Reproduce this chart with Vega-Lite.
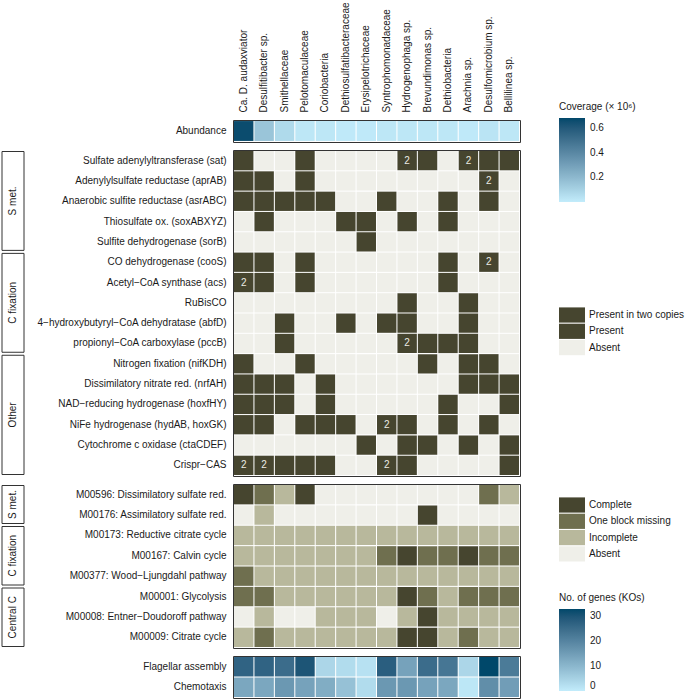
{
"$schema": "https://vega.github.io/schema/vega-lite/v6.json",
"padding": {"left": 1, "top": 1, "right": 0, "bottom": 0},
"config": {
  "font": "Liberation Sans",
  "view": {"stroke": "#333", "strokeWidth": 1},
  "axis": {"domain": false, "ticks": false, "grid": false, "labelFontSize": 10, "labelColor": "#1a1a1a", "labelPadding": 7, "labelLimit": 300},
  "legend": {"labelFontSize": 10, "labelColor": "#1a1a1a", "titleFontSize": 10, "titleFontWeight": "normal", "titleColor": "#1a1a1a"}
},
"datasets": {
  "abund": [
    {"row":"Abundance","sp":"Ca. D. audaxviator","cov":0.66},
    {"row":"Abundance","sp":"Desulfitibacter sp.","cov":0.15},
    {"row":"Abundance","sp":"Smithellaceae","cov":0.07},
    {"row":"Abundance","sp":"Pelotomaculaceae","cov":0.02},
    {"row":"Abundance","sp":"Coriobacteria","cov":0.02},
    {"row":"Abundance","sp":"Dethiosulfatibacteraceae","cov":0.01},
    {"row":"Abundance","sp":"Erysipelotrichaceae","cov":0.01},
    {"row":"Abundance","sp":"Syntrophomonadaceae","cov":0.02},
    {"row":"Abundance","sp":"Hydrogenophaga sp.","cov":0.02},
    {"row":"Abundance","sp":"Brevundimonas sp.","cov":0.02},
    {"row":"Abundance","sp":"Dethiobacteria","cov":0.02},
    {"row":"Abundance","sp":"Arachnia sp.","cov":0.01},
    {"row":"Abundance","sp":"Desulfomicrobium sp.","cov":0.03},
    {"row":"Abundance","sp":"Bellilinea sp.","cov":0.02}
  ],
  "geneGroups": [
    {"row":"Sulfate adenylyltransferase (sat)","group":"S met.","rank":1},
    {"row":"Adenylylsulfate reductase (aprAB)","group":"S met.","rank":1},
    {"row":"Anaerobic sulfite reductase (asrABC)","group":"S met.","rank":1},
    {"row":"Thiosulfate ox. (soxABXYZ)","group":"S met.","rank":1},
    {"row":"Sulfite dehydrogenase (sorB)","group":"S met.","rank":1},
    {"row":"CO dehydrogenase (cooS)","group":"C fixation","rank":2},
    {"row":"Acetyl−CoA synthase (acs)","group":"C fixation","rank":2},
    {"row":"RuBisCO","group":"C fixation","rank":2},
    {"row":"4−hydroxybutyryl−CoA dehydratase (abfD)","group":"C fixation","rank":2},
    {"row":"propionyl−CoA carboxylase (pccB)","group":"C fixation","rank":2},
    {"row":"Nitrogen fixation (nifKDH)","group":"Other","rank":3},
    {"row":"Dissimilatory nitrate red. (nrfAH)","group":"Other","rank":3},
    {"row":"NAD−reducing hydrogenase (hoxfHY)","group":"Other","rank":3},
    {"row":"NiFe hydrogenase (hydAB, hoxGK)","group":"Other","rank":3},
    {"row":"Cytochrome c oxidase (ctaCDEF)","group":"Other","rank":3},
    {"row":"Crispr−CAS","group":"Other","rank":3}
  ],
  "modGroups": [
    {"row":"M00596: Dissimilatory sulfate red.","group":"S met.","rank":1},
    {"row":"M00176: Assimilatory sulfate red.","group":"S met.","rank":1},
    {"row":"M00173: Reductive citrate cycle","group":"C fixation","rank":2},
    {"row":"M00167: Calvin cycle","group":"C fixation","rank":2},
    {"row":"M00377: Wood−Ljungdahl pathway","group":"C fixation","rank":2},
    {"row":"M00001: Glycolysis","group":"Central C","rank":3},
    {"row":"M00008: Entner−Doudoroff pathway","group":"Central C","rank":3},
    {"row":"M00009: Citrate cycle","group":"Central C","rank":3}
  ],
  "genes": [
    {"row":"Sulfate adenylyltransferase (sat)","sp":"Ca. D. audaxviator","st":"Present"},
    {"row":"Sulfate adenylyltransferase (sat)","sp":"Desulfitibacter sp.","st":"Absent"},
    {"row":"Sulfate adenylyltransferase (sat)","sp":"Smithellaceae","st":"Absent"},
    {"row":"Sulfate adenylyltransferase (sat)","sp":"Pelotomaculaceae","st":"Present"},
    {"row":"Sulfate adenylyltransferase (sat)","sp":"Coriobacteria","st":"Absent"},
    {"row":"Sulfate adenylyltransferase (sat)","sp":"Dethiosulfatibacteraceae","st":"Absent"},
    {"row":"Sulfate adenylyltransferase (sat)","sp":"Erysipelotrichaceae","st":"Absent"},
    {"row":"Sulfate adenylyltransferase (sat)","sp":"Syntrophomonadaceae","st":"Absent"},
    {"row":"Sulfate adenylyltransferase (sat)","sp":"Hydrogenophaga sp.","st":"Present in two copies"},
    {"row":"Sulfate adenylyltransferase (sat)","sp":"Brevundimonas sp.","st":"Present"},
    {"row":"Sulfate adenylyltransferase (sat)","sp":"Dethiobacteria","st":"Absent"},
    {"row":"Sulfate adenylyltransferase (sat)","sp":"Arachnia sp.","st":"Present in two copies"},
    {"row":"Sulfate adenylyltransferase (sat)","sp":"Desulfomicrobium sp.","st":"Present"},
    {"row":"Sulfate adenylyltransferase (sat)","sp":"Bellilinea sp.","st":"Present"},

    {"row":"Adenylylsulfate reductase (aprAB)","sp":"Ca. D. audaxviator","st":"Present"},
    {"row":"Adenylylsulfate reductase (aprAB)","sp":"Desulfitibacter sp.","st":"Present"},
    {"row":"Adenylylsulfate reductase (aprAB)","sp":"Smithellaceae","st":"Absent"},
    {"row":"Adenylylsulfate reductase (aprAB)","sp":"Pelotomaculaceae","st":"Present"},
    {"row":"Adenylylsulfate reductase (aprAB)","sp":"Coriobacteria","st":"Absent"},
    {"row":"Adenylylsulfate reductase (aprAB)","sp":"Dethiosulfatibacteraceae","st":"Absent"},
    {"row":"Adenylylsulfate reductase (aprAB)","sp":"Erysipelotrichaceae","st":"Absent"},
    {"row":"Adenylylsulfate reductase (aprAB)","sp":"Syntrophomonadaceae","st":"Absent"},
    {"row":"Adenylylsulfate reductase (aprAB)","sp":"Hydrogenophaga sp.","st":"Absent"},
    {"row":"Adenylylsulfate reductase (aprAB)","sp":"Brevundimonas sp.","st":"Absent"},
    {"row":"Adenylylsulfate reductase (aprAB)","sp":"Dethiobacteria","st":"Absent"},
    {"row":"Adenylylsulfate reductase (aprAB)","sp":"Arachnia sp.","st":"Absent"},
    {"row":"Adenylylsulfate reductase (aprAB)","sp":"Desulfomicrobium sp.","st":"Present in two copies"},
    {"row":"Adenylylsulfate reductase (aprAB)","sp":"Bellilinea sp.","st":"Absent"},

    {"row":"Anaerobic sulfite reductase (asrABC)","sp":"Ca. D. audaxviator","st":"Present"},
    {"row":"Anaerobic sulfite reductase (asrABC)","sp":"Desulfitibacter sp.","st":"Present"},
    {"row":"Anaerobic sulfite reductase (asrABC)","sp":"Smithellaceae","st":"Present"},
    {"row":"Anaerobic sulfite reductase (asrABC)","sp":"Pelotomaculaceae","st":"Present"},
    {"row":"Anaerobic sulfite reductase (asrABC)","sp":"Coriobacteria","st":"Present"},
    {"row":"Anaerobic sulfite reductase (asrABC)","sp":"Dethiosulfatibacteraceae","st":"Absent"},
    {"row":"Anaerobic sulfite reductase (asrABC)","sp":"Erysipelotrichaceae","st":"Absent"},
    {"row":"Anaerobic sulfite reductase (asrABC)","sp":"Syntrophomonadaceae","st":"Present"},
    {"row":"Anaerobic sulfite reductase (asrABC)","sp":"Hydrogenophaga sp.","st":"Absent"},
    {"row":"Anaerobic sulfite reductase (asrABC)","sp":"Brevundimonas sp.","st":"Absent"},
    {"row":"Anaerobic sulfite reductase (asrABC)","sp":"Dethiobacteria","st":"Present"},
    {"row":"Anaerobic sulfite reductase (asrABC)","sp":"Arachnia sp.","st":"Absent"},
    {"row":"Anaerobic sulfite reductase (asrABC)","sp":"Desulfomicrobium sp.","st":"Present"},
    {"row":"Anaerobic sulfite reductase (asrABC)","sp":"Bellilinea sp.","st":"Absent"},

    {"row":"Thiosulfate ox. (soxABXYZ)","sp":"Ca. D. audaxviator","st":"Absent"},
    {"row":"Thiosulfate ox. (soxABXYZ)","sp":"Desulfitibacter sp.","st":"Present"},
    {"row":"Thiosulfate ox. (soxABXYZ)","sp":"Smithellaceae","st":"Absent"},
    {"row":"Thiosulfate ox. (soxABXYZ)","sp":"Pelotomaculaceae","st":"Absent"},
    {"row":"Thiosulfate ox. (soxABXYZ)","sp":"Coriobacteria","st":"Absent"},
    {"row":"Thiosulfate ox. (soxABXYZ)","sp":"Dethiosulfatibacteraceae","st":"Present"},
    {"row":"Thiosulfate ox. (soxABXYZ)","sp":"Erysipelotrichaceae","st":"Present"},
    {"row":"Thiosulfate ox. (soxABXYZ)","sp":"Syntrophomonadaceae","st":"Absent"},
    {"row":"Thiosulfate ox. (soxABXYZ)","sp":"Hydrogenophaga sp.","st":"Present"},
    {"row":"Thiosulfate ox. (soxABXYZ)","sp":"Brevundimonas sp.","st":"Absent"},
    {"row":"Thiosulfate ox. (soxABXYZ)","sp":"Dethiobacteria","st":"Present"},
    {"row":"Thiosulfate ox. (soxABXYZ)","sp":"Arachnia sp.","st":"Absent"},
    {"row":"Thiosulfate ox. (soxABXYZ)","sp":"Desulfomicrobium sp.","st":"Absent"},
    {"row":"Thiosulfate ox. (soxABXYZ)","sp":"Bellilinea sp.","st":"Absent"},

    {"row":"Sulfite dehydrogenase (sorB)","sp":"Ca. D. audaxviator","st":"Absent"},
    {"row":"Sulfite dehydrogenase (sorB)","sp":"Desulfitibacter sp.","st":"Absent"},
    {"row":"Sulfite dehydrogenase (sorB)","sp":"Smithellaceae","st":"Absent"},
    {"row":"Sulfite dehydrogenase (sorB)","sp":"Pelotomaculaceae","st":"Absent"},
    {"row":"Sulfite dehydrogenase (sorB)","sp":"Coriobacteria","st":"Absent"},
    {"row":"Sulfite dehydrogenase (sorB)","sp":"Dethiosulfatibacteraceae","st":"Absent"},
    {"row":"Sulfite dehydrogenase (sorB)","sp":"Erysipelotrichaceae","st":"Present"},
    {"row":"Sulfite dehydrogenase (sorB)","sp":"Syntrophomonadaceae","st":"Absent"},
    {"row":"Sulfite dehydrogenase (sorB)","sp":"Hydrogenophaga sp.","st":"Absent"},
    {"row":"Sulfite dehydrogenase (sorB)","sp":"Brevundimonas sp.","st":"Absent"},
    {"row":"Sulfite dehydrogenase (sorB)","sp":"Dethiobacteria","st":"Absent"},
    {"row":"Sulfite dehydrogenase (sorB)","sp":"Arachnia sp.","st":"Absent"},
    {"row":"Sulfite dehydrogenase (sorB)","sp":"Desulfomicrobium sp.","st":"Absent"},
    {"row":"Sulfite dehydrogenase (sorB)","sp":"Bellilinea sp.","st":"Absent"},

    {"row":"CO dehydrogenase (cooS)","sp":"Ca. D. audaxviator","st":"Present"},
    {"row":"CO dehydrogenase (cooS)","sp":"Desulfitibacter sp.","st":"Present"},
    {"row":"CO dehydrogenase (cooS)","sp":"Smithellaceae","st":"Absent"},
    {"row":"CO dehydrogenase (cooS)","sp":"Pelotomaculaceae","st":"Present"},
    {"row":"CO dehydrogenase (cooS)","sp":"Coriobacteria","st":"Absent"},
    {"row":"CO dehydrogenase (cooS)","sp":"Dethiosulfatibacteraceae","st":"Absent"},
    {"row":"CO dehydrogenase (cooS)","sp":"Erysipelotrichaceae","st":"Absent"},
    {"row":"CO dehydrogenase (cooS)","sp":"Syntrophomonadaceae","st":"Absent"},
    {"row":"CO dehydrogenase (cooS)","sp":"Hydrogenophaga sp.","st":"Absent"},
    {"row":"CO dehydrogenase (cooS)","sp":"Brevundimonas sp.","st":"Absent"},
    {"row":"CO dehydrogenase (cooS)","sp":"Dethiobacteria","st":"Present"},
    {"row":"CO dehydrogenase (cooS)","sp":"Arachnia sp.","st":"Absent"},
    {"row":"CO dehydrogenase (cooS)","sp":"Desulfomicrobium sp.","st":"Present in two copies"},
    {"row":"CO dehydrogenase (cooS)","sp":"Bellilinea sp.","st":"Absent"},

    {"row":"Acetyl−CoA synthase (acs)","sp":"Ca. D. audaxviator","st":"Present in two copies"},
    {"row":"Acetyl−CoA synthase (acs)","sp":"Desulfitibacter sp.","st":"Present"},
    {"row":"Acetyl−CoA synthase (acs)","sp":"Smithellaceae","st":"Absent"},
    {"row":"Acetyl−CoA synthase (acs)","sp":"Pelotomaculaceae","st":"Present"},
    {"row":"Acetyl−CoA synthase (acs)","sp":"Coriobacteria","st":"Absent"},
    {"row":"Acetyl−CoA synthase (acs)","sp":"Dethiosulfatibacteraceae","st":"Absent"},
    {"row":"Acetyl−CoA synthase (acs)","sp":"Erysipelotrichaceae","st":"Absent"},
    {"row":"Acetyl−CoA synthase (acs)","sp":"Syntrophomonadaceae","st":"Absent"},
    {"row":"Acetyl−CoA synthase (acs)","sp":"Hydrogenophaga sp.","st":"Absent"},
    {"row":"Acetyl−CoA synthase (acs)","sp":"Brevundimonas sp.","st":"Absent"},
    {"row":"Acetyl−CoA synthase (acs)","sp":"Dethiobacteria","st":"Present"},
    {"row":"Acetyl−CoA synthase (acs)","sp":"Arachnia sp.","st":"Absent"},
    {"row":"Acetyl−CoA synthase (acs)","sp":"Desulfomicrobium sp.","st":"Absent"},
    {"row":"Acetyl−CoA synthase (acs)","sp":"Bellilinea sp.","st":"Absent"},

    {"row":"RuBisCO","sp":"Ca. D. audaxviator","st":"Absent"},
    {"row":"RuBisCO","sp":"Desulfitibacter sp.","st":"Absent"},
    {"row":"RuBisCO","sp":"Smithellaceae","st":"Absent"},
    {"row":"RuBisCO","sp":"Pelotomaculaceae","st":"Absent"},
    {"row":"RuBisCO","sp":"Coriobacteria","st":"Absent"},
    {"row":"RuBisCO","sp":"Dethiosulfatibacteraceae","st":"Absent"},
    {"row":"RuBisCO","sp":"Erysipelotrichaceae","st":"Absent"},
    {"row":"RuBisCO","sp":"Syntrophomonadaceae","st":"Absent"},
    {"row":"RuBisCO","sp":"Hydrogenophaga sp.","st":"Present"},
    {"row":"RuBisCO","sp":"Brevundimonas sp.","st":"Absent"},
    {"row":"RuBisCO","sp":"Dethiobacteria","st":"Absent"},
    {"row":"RuBisCO","sp":"Arachnia sp.","st":"Present"},
    {"row":"RuBisCO","sp":"Desulfomicrobium sp.","st":"Absent"},
    {"row":"RuBisCO","sp":"Bellilinea sp.","st":"Absent"},

    {"row":"4−hydroxybutyryl−CoA dehydratase (abfD)","sp":"Ca. D. audaxviator","st":"Absent"},
    {"row":"4−hydroxybutyryl−CoA dehydratase (abfD)","sp":"Desulfitibacter sp.","st":"Absent"},
    {"row":"4−hydroxybutyryl−CoA dehydratase (abfD)","sp":"Smithellaceae","st":"Present"},
    {"row":"4−hydroxybutyryl−CoA dehydratase (abfD)","sp":"Pelotomaculaceae","st":"Absent"},
    {"row":"4−hydroxybutyryl−CoA dehydratase (abfD)","sp":"Coriobacteria","st":"Absent"},
    {"row":"4−hydroxybutyryl−CoA dehydratase (abfD)","sp":"Dethiosulfatibacteraceae","st":"Present"},
    {"row":"4−hydroxybutyryl−CoA dehydratase (abfD)","sp":"Erysipelotrichaceae","st":"Absent"},
    {"row":"4−hydroxybutyryl−CoA dehydratase (abfD)","sp":"Syntrophomonadaceae","st":"Present"},
    {"row":"4−hydroxybutyryl−CoA dehydratase (abfD)","sp":"Hydrogenophaga sp.","st":"Present"},
    {"row":"4−hydroxybutyryl−CoA dehydratase (abfD)","sp":"Brevundimonas sp.","st":"Absent"},
    {"row":"4−hydroxybutyryl−CoA dehydratase (abfD)","sp":"Dethiobacteria","st":"Absent"},
    {"row":"4−hydroxybutyryl−CoA dehydratase (abfD)","sp":"Arachnia sp.","st":"Present"},
    {"row":"4−hydroxybutyryl−CoA dehydratase (abfD)","sp":"Desulfomicrobium sp.","st":"Absent"},
    {"row":"4−hydroxybutyryl−CoA dehydratase (abfD)","sp":"Bellilinea sp.","st":"Absent"},

    {"row":"propionyl−CoA carboxylase (pccB)","sp":"Ca. D. audaxviator","st":"Absent"},
    {"row":"propionyl−CoA carboxylase (pccB)","sp":"Desulfitibacter sp.","st":"Absent"},
    {"row":"propionyl−CoA carboxylase (pccB)","sp":"Smithellaceae","st":"Present"},
    {"row":"propionyl−CoA carboxylase (pccB)","sp":"Pelotomaculaceae","st":"Absent"},
    {"row":"propionyl−CoA carboxylase (pccB)","sp":"Coriobacteria","st":"Absent"},
    {"row":"propionyl−CoA carboxylase (pccB)","sp":"Dethiosulfatibacteraceae","st":"Absent"},
    {"row":"propionyl−CoA carboxylase (pccB)","sp":"Erysipelotrichaceae","st":"Absent"},
    {"row":"propionyl−CoA carboxylase (pccB)","sp":"Syntrophomonadaceae","st":"Absent"},
    {"row":"propionyl−CoA carboxylase (pccB)","sp":"Hydrogenophaga sp.","st":"Present in two copies"},
    {"row":"propionyl−CoA carboxylase (pccB)","sp":"Brevundimonas sp.","st":"Present"},
    {"row":"propionyl−CoA carboxylase (pccB)","sp":"Dethiobacteria","st":"Present"},
    {"row":"propionyl−CoA carboxylase (pccB)","sp":"Arachnia sp.","st":"Present"},
    {"row":"propionyl−CoA carboxylase (pccB)","sp":"Desulfomicrobium sp.","st":"Absent"},
    {"row":"propionyl−CoA carboxylase (pccB)","sp":"Bellilinea sp.","st":"Absent"},

    {"row":"Nitrogen fixation (nifKDH)","sp":"Ca. D. audaxviator","st":"Present"},
    {"row":"Nitrogen fixation (nifKDH)","sp":"Desulfitibacter sp.","st":"Absent"},
    {"row":"Nitrogen fixation (nifKDH)","sp":"Smithellaceae","st":"Absent"},
    {"row":"Nitrogen fixation (nifKDH)","sp":"Pelotomaculaceae","st":"Present"},
    {"row":"Nitrogen fixation (nifKDH)","sp":"Coriobacteria","st":"Absent"},
    {"row":"Nitrogen fixation (nifKDH)","sp":"Dethiosulfatibacteraceae","st":"Absent"},
    {"row":"Nitrogen fixation (nifKDH)","sp":"Erysipelotrichaceae","st":"Absent"},
    {"row":"Nitrogen fixation (nifKDH)","sp":"Syntrophomonadaceae","st":"Absent"},
    {"row":"Nitrogen fixation (nifKDH)","sp":"Hydrogenophaga sp.","st":"Absent"},
    {"row":"Nitrogen fixation (nifKDH)","sp":"Brevundimonas sp.","st":"Present"},
    {"row":"Nitrogen fixation (nifKDH)","sp":"Dethiobacteria","st":"Absent"},
    {"row":"Nitrogen fixation (nifKDH)","sp":"Arachnia sp.","st":"Present"},
    {"row":"Nitrogen fixation (nifKDH)","sp":"Desulfomicrobium sp.","st":"Present"},
    {"row":"Nitrogen fixation (nifKDH)","sp":"Bellilinea sp.","st":"Absent"},

    {"row":"Dissimilatory nitrate red. (nrfAH)","sp":"Ca. D. audaxviator","st":"Present"},
    {"row":"Dissimilatory nitrate red. (nrfAH)","sp":"Desulfitibacter sp.","st":"Present"},
    {"row":"Dissimilatory nitrate red. (nrfAH)","sp":"Smithellaceae","st":"Present"},
    {"row":"Dissimilatory nitrate red. (nrfAH)","sp":"Pelotomaculaceae","st":"Absent"},
    {"row":"Dissimilatory nitrate red. (nrfAH)","sp":"Coriobacteria","st":"Present"},
    {"row":"Dissimilatory nitrate red. (nrfAH)","sp":"Dethiosulfatibacteraceae","st":"Absent"},
    {"row":"Dissimilatory nitrate red. (nrfAH)","sp":"Erysipelotrichaceae","st":"Absent"},
    {"row":"Dissimilatory nitrate red. (nrfAH)","sp":"Syntrophomonadaceae","st":"Absent"},
    {"row":"Dissimilatory nitrate red. (nrfAH)","sp":"Hydrogenophaga sp.","st":"Absent"},
    {"row":"Dissimilatory nitrate red. (nrfAH)","sp":"Brevundimonas sp.","st":"Absent"},
    {"row":"Dissimilatory nitrate red. (nrfAH)","sp":"Dethiobacteria","st":"Absent"},
    {"row":"Dissimilatory nitrate red. (nrfAH)","sp":"Arachnia sp.","st":"Present"},
    {"row":"Dissimilatory nitrate red. (nrfAH)","sp":"Desulfomicrobium sp.","st":"Present"},
    {"row":"Dissimilatory nitrate red. (nrfAH)","sp":"Bellilinea sp.","st":"Present"},

    {"row":"NAD−reducing hydrogenase (hoxfHY)","sp":"Ca. D. audaxviator","st":"Present"},
    {"row":"NAD−reducing hydrogenase (hoxfHY)","sp":"Desulfitibacter sp.","st":"Present"},
    {"row":"NAD−reducing hydrogenase (hoxfHY)","sp":"Smithellaceae","st":"Present"},
    {"row":"NAD−reducing hydrogenase (hoxfHY)","sp":"Pelotomaculaceae","st":"Absent"},
    {"row":"NAD−reducing hydrogenase (hoxfHY)","sp":"Coriobacteria","st":"Present"},
    {"row":"NAD−reducing hydrogenase (hoxfHY)","sp":"Dethiosulfatibacteraceae","st":"Absent"},
    {"row":"NAD−reducing hydrogenase (hoxfHY)","sp":"Erysipelotrichaceae","st":"Absent"},
    {"row":"NAD−reducing hydrogenase (hoxfHY)","sp":"Syntrophomonadaceae","st":"Absent"},
    {"row":"NAD−reducing hydrogenase (hoxfHY)","sp":"Hydrogenophaga sp.","st":"Absent"},
    {"row":"NAD−reducing hydrogenase (hoxfHY)","sp":"Brevundimonas sp.","st":"Absent"},
    {"row":"NAD−reducing hydrogenase (hoxfHY)","sp":"Dethiobacteria","st":"Present"},
    {"row":"NAD−reducing hydrogenase (hoxfHY)","sp":"Arachnia sp.","st":"Absent"},
    {"row":"NAD−reducing hydrogenase (hoxfHY)","sp":"Desulfomicrobium sp.","st":"Absent"},
    {"row":"NAD−reducing hydrogenase (hoxfHY)","sp":"Bellilinea sp.","st":"Present"},

    {"row":"NiFe hydrogenase (hydAB, hoxGK)","sp":"Ca. D. audaxviator","st":"Present"},
    {"row":"NiFe hydrogenase (hydAB, hoxGK)","sp":"Desulfitibacter sp.","st":"Present"},
    {"row":"NiFe hydrogenase (hydAB, hoxGK)","sp":"Smithellaceae","st":"Absent"},
    {"row":"NiFe hydrogenase (hydAB, hoxGK)","sp":"Pelotomaculaceae","st":"Present"},
    {"row":"NiFe hydrogenase (hydAB, hoxGK)","sp":"Coriobacteria","st":"Present"},
    {"row":"NiFe hydrogenase (hydAB, hoxGK)","sp":"Dethiosulfatibacteraceae","st":"Present"},
    {"row":"NiFe hydrogenase (hydAB, hoxGK)","sp":"Erysipelotrichaceae","st":"Absent"},
    {"row":"NiFe hydrogenase (hydAB, hoxGK)","sp":"Syntrophomonadaceae","st":"Present in two copies"},
    {"row":"NiFe hydrogenase (hydAB, hoxGK)","sp":"Hydrogenophaga sp.","st":"Present"},
    {"row":"NiFe hydrogenase (hydAB, hoxGK)","sp":"Brevundimonas sp.","st":"Absent"},
    {"row":"NiFe hydrogenase (hydAB, hoxGK)","sp":"Dethiobacteria","st":"Present"},
    {"row":"NiFe hydrogenase (hydAB, hoxGK)","sp":"Arachnia sp.","st":"Absent"},
    {"row":"NiFe hydrogenase (hydAB, hoxGK)","sp":"Desulfomicrobium sp.","st":"Present"},
    {"row":"NiFe hydrogenase (hydAB, hoxGK)","sp":"Bellilinea sp.","st":"Absent"},

    {"row":"Cytochrome c oxidase (ctaCDEF)","sp":"Ca. D. audaxviator","st":"Absent"},
    {"row":"Cytochrome c oxidase (ctaCDEF)","sp":"Desulfitibacter sp.","st":"Absent"},
    {"row":"Cytochrome c oxidase (ctaCDEF)","sp":"Smithellaceae","st":"Absent"},
    {"row":"Cytochrome c oxidase (ctaCDEF)","sp":"Pelotomaculaceae","st":"Absent"},
    {"row":"Cytochrome c oxidase (ctaCDEF)","sp":"Coriobacteria","st":"Absent"},
    {"row":"Cytochrome c oxidase (ctaCDEF)","sp":"Dethiosulfatibacteraceae","st":"Absent"},
    {"row":"Cytochrome c oxidase (ctaCDEF)","sp":"Erysipelotrichaceae","st":"Present"},
    {"row":"Cytochrome c oxidase (ctaCDEF)","sp":"Syntrophomonadaceae","st":"Absent"},
    {"row":"Cytochrome c oxidase (ctaCDEF)","sp":"Hydrogenophaga sp.","st":"Present"},
    {"row":"Cytochrome c oxidase (ctaCDEF)","sp":"Brevundimonas sp.","st":"Present"},
    {"row":"Cytochrome c oxidase (ctaCDEF)","sp":"Dethiobacteria","st":"Absent"},
    {"row":"Cytochrome c oxidase (ctaCDEF)","sp":"Arachnia sp.","st":"Present"},
    {"row":"Cytochrome c oxidase (ctaCDEF)","sp":"Desulfomicrobium sp.","st":"Absent"},
    {"row":"Cytochrome c oxidase (ctaCDEF)","sp":"Bellilinea sp.","st":"Present"},

    {"row":"Crispr−CAS","sp":"Ca. D. audaxviator","st":"Present in two copies"},
    {"row":"Crispr−CAS","sp":"Desulfitibacter sp.","st":"Present in two copies"},
    {"row":"Crispr−CAS","sp":"Smithellaceae","st":"Present"},
    {"row":"Crispr−CAS","sp":"Pelotomaculaceae","st":"Present"},
    {"row":"Crispr−CAS","sp":"Coriobacteria","st":"Present"},
    {"row":"Crispr−CAS","sp":"Dethiosulfatibacteraceae","st":"Absent"},
    {"row":"Crispr−CAS","sp":"Erysipelotrichaceae","st":"Absent"},
    {"row":"Crispr−CAS","sp":"Syntrophomonadaceae","st":"Present in two copies"},
    {"row":"Crispr−CAS","sp":"Hydrogenophaga sp.","st":"Present"},
    {"row":"Crispr−CAS","sp":"Brevundimonas sp.","st":"Absent"},
    {"row":"Crispr−CAS","sp":"Dethiobacteria","st":"Absent"},
    {"row":"Crispr−CAS","sp":"Arachnia sp.","st":"Absent"},
    {"row":"Crispr−CAS","sp":"Desulfomicrobium sp.","st":"Absent"},
    {"row":"Crispr−CAS","sp":"Bellilinea sp.","st":"Present"}
  ],
  "modules": [
    {"row":"M00596: Dissimilatory sulfate red.","sp":"Ca. D. audaxviator","st":"Complete"},
    {"row":"M00596: Dissimilatory sulfate red.","sp":"Desulfitibacter sp.","st":"One block missing"},
    {"row":"M00596: Dissimilatory sulfate red.","sp":"Smithellaceae","st":"Incomplete"},
    {"row":"M00596: Dissimilatory sulfate red.","sp":"Pelotomaculaceae","st":"Complete"},
    {"row":"M00596: Dissimilatory sulfate red.","sp":"Coriobacteria","st":"Absent"},
    {"row":"M00596: Dissimilatory sulfate red.","sp":"Dethiosulfatibacteraceae","st":"Absent"},
    {"row":"M00596: Dissimilatory sulfate red.","sp":"Erysipelotrichaceae","st":"Absent"},
    {"row":"M00596: Dissimilatory sulfate red.","sp":"Syntrophomonadaceae","st":"Absent"},
    {"row":"M00596: Dissimilatory sulfate red.","sp":"Hydrogenophaga sp.","st":"Absent"},
    {"row":"M00596: Dissimilatory sulfate red.","sp":"Brevundimonas sp.","st":"Absent"},
    {"row":"M00596: Dissimilatory sulfate red.","sp":"Dethiobacteria","st":"Absent"},
    {"row":"M00596: Dissimilatory sulfate red.","sp":"Arachnia sp.","st":"Absent"},
    {"row":"M00596: Dissimilatory sulfate red.","sp":"Desulfomicrobium sp.","st":"One block missing"},
    {"row":"M00596: Dissimilatory sulfate red.","sp":"Bellilinea sp.","st":"Incomplete"},

    {"row":"M00176: Assimilatory sulfate red.","sp":"Ca. D. audaxviator","st":"Absent"},
    {"row":"M00176: Assimilatory sulfate red.","sp":"Desulfitibacter sp.","st":"Incomplete"},
    {"row":"M00176: Assimilatory sulfate red.","sp":"Smithellaceae","st":"Absent"},
    {"row":"M00176: Assimilatory sulfate red.","sp":"Pelotomaculaceae","st":"Absent"},
    {"row":"M00176: Assimilatory sulfate red.","sp":"Coriobacteria","st":"Absent"},
    {"row":"M00176: Assimilatory sulfate red.","sp":"Dethiosulfatibacteraceae","st":"Absent"},
    {"row":"M00176: Assimilatory sulfate red.","sp":"Erysipelotrichaceae","st":"Absent"},
    {"row":"M00176: Assimilatory sulfate red.","sp":"Syntrophomonadaceae","st":"Absent"},
    {"row":"M00176: Assimilatory sulfate red.","sp":"Hydrogenophaga sp.","st":"Absent"},
    {"row":"M00176: Assimilatory sulfate red.","sp":"Brevundimonas sp.","st":"Complete"},
    {"row":"M00176: Assimilatory sulfate red.","sp":"Dethiobacteria","st":"Absent"},
    {"row":"M00176: Assimilatory sulfate red.","sp":"Arachnia sp.","st":"Absent"},
    {"row":"M00176: Assimilatory sulfate red.","sp":"Desulfomicrobium sp.","st":"Absent"},
    {"row":"M00176: Assimilatory sulfate red.","sp":"Bellilinea sp.","st":"Absent"},

    {"row":"M00173: Reductive citrate cycle","sp":"Ca. D. audaxviator","st":"Incomplete"},
    {"row":"M00173: Reductive citrate cycle","sp":"Desulfitibacter sp.","st":"Incomplete"},
    {"row":"M00173: Reductive citrate cycle","sp":"Smithellaceae","st":"Incomplete"},
    {"row":"M00173: Reductive citrate cycle","sp":"Pelotomaculaceae","st":"Incomplete"},
    {"row":"M00173: Reductive citrate cycle","sp":"Coriobacteria","st":"Incomplete"},
    {"row":"M00173: Reductive citrate cycle","sp":"Dethiosulfatibacteraceae","st":"Incomplete"},
    {"row":"M00173: Reductive citrate cycle","sp":"Erysipelotrichaceae","st":"Incomplete"},
    {"row":"M00173: Reductive citrate cycle","sp":"Syntrophomonadaceae","st":"Incomplete"},
    {"row":"M00173: Reductive citrate cycle","sp":"Hydrogenophaga sp.","st":"Incomplete"},
    {"row":"M00173: Reductive citrate cycle","sp":"Brevundimonas sp.","st":"Incomplete"},
    {"row":"M00173: Reductive citrate cycle","sp":"Dethiobacteria","st":"Incomplete"},
    {"row":"M00173: Reductive citrate cycle","sp":"Arachnia sp.","st":"Incomplete"},
    {"row":"M00173: Reductive citrate cycle","sp":"Desulfomicrobium sp.","st":"Incomplete"},
    {"row":"M00173: Reductive citrate cycle","sp":"Bellilinea sp.","st":"Incomplete"},

    {"row":"M00167: Calvin cycle","sp":"Ca. D. audaxviator","st":"Incomplete"},
    {"row":"M00167: Calvin cycle","sp":"Desulfitibacter sp.","st":"Incomplete"},
    {"row":"M00167: Calvin cycle","sp":"Smithellaceae","st":"Incomplete"},
    {"row":"M00167: Calvin cycle","sp":"Pelotomaculaceae","st":"Incomplete"},
    {"row":"M00167: Calvin cycle","sp":"Coriobacteria","st":"Incomplete"},
    {"row":"M00167: Calvin cycle","sp":"Dethiosulfatibacteraceae","st":"Incomplete"},
    {"row":"M00167: Calvin cycle","sp":"Erysipelotrichaceae","st":"Incomplete"},
    {"row":"M00167: Calvin cycle","sp":"Syntrophomonadaceae","st":"One block missing"},
    {"row":"M00167: Calvin cycle","sp":"Hydrogenophaga sp.","st":"Complete"},
    {"row":"M00167: Calvin cycle","sp":"Brevundimonas sp.","st":"One block missing"},
    {"row":"M00167: Calvin cycle","sp":"Dethiobacteria","st":"One block missing"},
    {"row":"M00167: Calvin cycle","sp":"Arachnia sp.","st":"Complete"},
    {"row":"M00167: Calvin cycle","sp":"Desulfomicrobium sp.","st":"One block missing"},
    {"row":"M00167: Calvin cycle","sp":"Bellilinea sp.","st":"One block missing"},

    {"row":"M00377: Wood−Ljungdahl pathway","sp":"Ca. D. audaxviator","st":"One block missing"},
    {"row":"M00377: Wood−Ljungdahl pathway","sp":"Desulfitibacter sp.","st":"Incomplete"},
    {"row":"M00377: Wood−Ljungdahl pathway","sp":"Smithellaceae","st":"Incomplete"},
    {"row":"M00377: Wood−Ljungdahl pathway","sp":"Pelotomaculaceae","st":"Incomplete"},
    {"row":"M00377: Wood−Ljungdahl pathway","sp":"Coriobacteria","st":"Incomplete"},
    {"row":"M00377: Wood−Ljungdahl pathway","sp":"Dethiosulfatibacteraceae","st":"Incomplete"},
    {"row":"M00377: Wood−Ljungdahl pathway","sp":"Erysipelotrichaceae","st":"Incomplete"},
    {"row":"M00377: Wood−Ljungdahl pathway","sp":"Syntrophomonadaceae","st":"Incomplete"},
    {"row":"M00377: Wood−Ljungdahl pathway","sp":"Hydrogenophaga sp.","st":"Incomplete"},
    {"row":"M00377: Wood−Ljungdahl pathway","sp":"Brevundimonas sp.","st":"Incomplete"},
    {"row":"M00377: Wood−Ljungdahl pathway","sp":"Dethiobacteria","st":"Incomplete"},
    {"row":"M00377: Wood−Ljungdahl pathway","sp":"Arachnia sp.","st":"Incomplete"},
    {"row":"M00377: Wood−Ljungdahl pathway","sp":"Desulfomicrobium sp.","st":"Incomplete"},
    {"row":"M00377: Wood−Ljungdahl pathway","sp":"Bellilinea sp.","st":"Incomplete"},

    {"row":"M00001: Glycolysis","sp":"Ca. D. audaxviator","st":"One block missing"},
    {"row":"M00001: Glycolysis","sp":"Desulfitibacter sp.","st":"One block missing"},
    {"row":"M00001: Glycolysis","sp":"Smithellaceae","st":"Incomplete"},
    {"row":"M00001: Glycolysis","sp":"Pelotomaculaceae","st":"Incomplete"},
    {"row":"M00001: Glycolysis","sp":"Coriobacteria","st":"Incomplete"},
    {"row":"M00001: Glycolysis","sp":"Dethiosulfatibacteraceae","st":"Incomplete"},
    {"row":"M00001: Glycolysis","sp":"Erysipelotrichaceae","st":"Incomplete"},
    {"row":"M00001: Glycolysis","sp":"Syntrophomonadaceae","st":"Incomplete"},
    {"row":"M00001: Glycolysis","sp":"Hydrogenophaga sp.","st":"Complete"},
    {"row":"M00001: Glycolysis","sp":"Brevundimonas sp.","st":"One block missing"},
    {"row":"M00001: Glycolysis","sp":"Dethiobacteria","st":"Incomplete"},
    {"row":"M00001: Glycolysis","sp":"Arachnia sp.","st":"One block missing"},
    {"row":"M00001: Glycolysis","sp":"Desulfomicrobium sp.","st":"One block missing"},
    {"row":"M00001: Glycolysis","sp":"Bellilinea sp.","st":"One block missing"},

    {"row":"M00008: Entner−Doudoroff pathway","sp":"Ca. D. audaxviator","st":"Absent"},
    {"row":"M00008: Entner−Doudoroff pathway","sp":"Desulfitibacter sp.","st":"Incomplete"},
    {"row":"M00008: Entner−Doudoroff pathway","sp":"Smithellaceae","st":"Absent"},
    {"row":"M00008: Entner−Doudoroff pathway","sp":"Pelotomaculaceae","st":"Absent"},
    {"row":"M00008: Entner−Doudoroff pathway","sp":"Coriobacteria","st":"Incomplete"},
    {"row":"M00008: Entner−Doudoroff pathway","sp":"Dethiosulfatibacteraceae","st":"Incomplete"},
    {"row":"M00008: Entner−Doudoroff pathway","sp":"Erysipelotrichaceae","st":"Incomplete"},
    {"row":"M00008: Entner−Doudoroff pathway","sp":"Syntrophomonadaceae","st":"Absent"},
    {"row":"M00008: Entner−Doudoroff pathway","sp":"Hydrogenophaga sp.","st":"Incomplete"},
    {"row":"M00008: Entner−Doudoroff pathway","sp":"Brevundimonas sp.","st":"Complete"},
    {"row":"M00008: Entner−Doudoroff pathway","sp":"Dethiobacteria","st":"Incomplete"},
    {"row":"M00008: Entner−Doudoroff pathway","sp":"Arachnia sp.","st":"Incomplete"},
    {"row":"M00008: Entner−Doudoroff pathway","sp":"Desulfomicrobium sp.","st":"Incomplete"},
    {"row":"M00008: Entner−Doudoroff pathway","sp":"Bellilinea sp.","st":"Incomplete"},

    {"row":"M00009: Citrate cycle","sp":"Ca. D. audaxviator","st":"Incomplete"},
    {"row":"M00009: Citrate cycle","sp":"Desulfitibacter sp.","st":"One block missing"},
    {"row":"M00009: Citrate cycle","sp":"Smithellaceae","st":"Incomplete"},
    {"row":"M00009: Citrate cycle","sp":"Pelotomaculaceae","st":"Incomplete"},
    {"row":"M00009: Citrate cycle","sp":"Coriobacteria","st":"Incomplete"},
    {"row":"M00009: Citrate cycle","sp":"Dethiosulfatibacteraceae","st":"Incomplete"},
    {"row":"M00009: Citrate cycle","sp":"Erysipelotrichaceae","st":"Incomplete"},
    {"row":"M00009: Citrate cycle","sp":"Syntrophomonadaceae","st":"Incomplete"},
    {"row":"M00009: Citrate cycle","sp":"Hydrogenophaga sp.","st":"Complete"},
    {"row":"M00009: Citrate cycle","sp":"Brevundimonas sp.","st":"Complete"},
    {"row":"M00009: Citrate cycle","sp":"Dethiobacteria","st":"Incomplete"},
    {"row":"M00009: Citrate cycle","sp":"Arachnia sp.","st":"One block missing"},
    {"row":"M00009: Citrate cycle","sp":"Desulfomicrobium sp.","st":"Incomplete"},
    {"row":"M00009: Citrate cycle","sp":"Bellilinea sp.","st":"Incomplete"}
  ],
  "flag": [
    {"row":"Flagellar assembly","sp":"Ca. D. audaxviator","n":27},
    {"row":"Flagellar assembly","sp":"Desulfitibacter sp.","n":27},
    {"row":"Flagellar assembly","sp":"Smithellaceae","n":25},
    {"row":"Flagellar assembly","sp":"Pelotomaculaceae","n":30},
    {"row":"Flagellar assembly","sp":"Coriobacteria","n":4},
    {"row":"Flagellar assembly","sp":"Dethiosulfatibacteraceae","n":3},
    {"row":"Flagellar assembly","sp":"Erysipelotrichaceae","n":2},
    {"row":"Flagellar assembly","sp":"Syntrophomonadaceae","n":28},
    {"row":"Flagellar assembly","sp":"Hydrogenophaga sp.","n":14},
    {"row":"Flagellar assembly","sp":"Brevundimonas sp.","n":25},
    {"row":"Flagellar assembly","sp":"Dethiobacteria","n":23},
    {"row":"Flagellar assembly","sp":"Arachnia sp.","n":4},
    {"row":"Flagellar assembly","sp":"Desulfomicrobium sp.","n":33},
    {"row":"Flagellar assembly","sp":"Bellilinea sp.","n":22},
    {"row":"Chemotaxis","sp":"Ca. D. audaxviator","n":13},
    {"row":"Chemotaxis","sp":"Desulfitibacter sp.","n":13},
    {"row":"Chemotaxis","sp":"Smithellaceae","n":16},
    {"row":"Chemotaxis","sp":"Pelotomaculaceae","n":14},
    {"row":"Chemotaxis","sp":"Coriobacteria","n":12},
    {"row":"Chemotaxis","sp":"Dethiosulfatibacteraceae","n":8},
    {"row":"Chemotaxis","sp":"Erysipelotrichaceae","n":3},
    {"row":"Chemotaxis","sp":"Syntrophomonadaceae","n":16},
    {"row":"Chemotaxis","sp":"Hydrogenophaga sp.","n":16},
    {"row":"Chemotaxis","sp":"Brevundimonas sp.","n":14},
    {"row":"Chemotaxis","sp":"Dethiobacteria","n":13},
    {"row":"Chemotaxis","sp":"Arachnia sp.","n":1},
    {"row":"Chemotaxis","sp":"Desulfomicrobium sp.","n":18},
    {"row":"Chemotaxis","sp":"Bellilinea sp.","n":15}
  ]
},
"columns": 2,
"spacing": {"row": 8, "column": 209},
"bounds": "flush",
"resolve": {"scale": {"x": "independent", "y": "independent", "color": "independent"}, "legend": {"color": "independent"}},
"concat": [
  {
    "width": 22, "height": 22,
    "data": {"values": []},
    "view": {"stroke": null},
    "mark": "rect",
    "encoding": {}
  },
  {
    "width": 287, "height": 22,
    "data": {"name": "abund"},
    "mark": {"type": "rect"},
    "encoding": {
      "x": {"field": "sp", "type": "nominal", "sort": null, "scale": {"paddingInner": 0.05, "paddingOuter": 0.05},
            "axis": {"orient": "top", "labelAngle": -90, "title": null, "labelPadding": 8}},
      "y": {"field": "row", "type": "nominal", "title": null, "scale": {"paddingInner": 0.05, "paddingOuter": 0.05}},
      "color": {"field": "cov", "type": "quantitative",
                "scale": {"domain": [0, 0.68], "range": ["#c2ecfb", "#00486a"], "interpolate": "lab"},
                "legend": {"title": "Coverage (× 10⁶)", "orient": "none", "legendX": 326, "legendY": -18,
                           "direction": "vertical", "gradientLength": 84, "gradientThickness": 26,
                           "gradientStrokeWidth": 0, "titlePadding": 6, "values": [0.2, 0.4, 0.6], "labelOffset": 5}}
    }
  },
  {
    "width": 22, "height": 326,
    "data": {"name": "geneGroups"},
    "view": {"stroke": null},
    "layer": [
      {
        "transform": [
          {"aggregate": [{"op": "count", "as": "n"}], "groupby": ["group", "rank"]},
          {"stack": "n", "groupby": [], "sort": [{"field": "rank", "order": "ascending"}], "as": ["y0", "y1"]}
        ],
        "mark": {"type": "rect", "fill": "white", "stroke": "#333", "strokeWidth": 1, "yOffset": 1.5, "y2Offset": -1.5},
        "encoding": {
          "y": {"field": "y0", "type": "quantitative", "scale": {"reverse": true, "nice": false, "zero": true}, "axis": null},
          "y2": {"field": "y1"}
        }
      },
      {
        "mark": {"type": "text", "angle": 270, "fontSize": 10, "fill": "#1a1a1a", "align": "center", "baseline": "middle"},
        "encoding": {
          "y": {"aggregate": "count", "type": "quantitative", "stack": "zero", "bandPosition": 0.5},
          "detail": {"field": "group"},
          "order": {"field": "rank"},
          "text": {"field": "group"}
        }
      }
    ]
  },
  {
    "width": 287, "height": 326,
    "data": {"name": "genes"},
    "encoding": {
      "x": {"field": "sp", "type": "nominal", "sort": null, "scale": {"paddingInner": 0.05, "paddingOuter": 0.05}, "axis": null},
      "y": {"field": "row", "type": "nominal", "sort": null, "title": null, "scale": {"paddingInner": 0.05, "paddingOuter": 0.05}}
    },
    "layer": [
      {
        "mark": {"type": "rect"},
        "encoding": {
          "color": {"field": "st", "type": "nominal",
                    "scale": {"domain": ["Present in two copies", "Present", "Absent"], "range": ["#46452f", "#46452f", "#efefe9"]},
                    "legend": {"title": null, "orient": "none", "legendX": 331, "legendY": 157,
                               "symbolType": "M-1.625,-0.95H1.625V0.95H-1.625Z", "symbolSize": 256,
                               "symbolStrokeWidth": 0, "rowPadding": 0.3, "labelOffset": 9}}
        }
      },
      {
        "mark": {"type": "text", "fontSize": 10, "fill": "#ececE4"},
        "encoding": {
          "text": {"condition": {"test": "datum.st === 'Present in two copies'", "value": "2"}, "value": ""}
        }
      }
    ]
  },
  {
    "width": 22, "height": 164,
    "data": {"name": "modGroups"},
    "view": {"stroke": null},
    "layer": [
      {
        "transform": [
          {"aggregate": [{"op": "count", "as": "n"}], "groupby": ["group", "rank"]},
          {"stack": "n", "groupby": [], "sort": [{"field": "rank", "order": "ascending"}], "as": ["y0", "y1"]}
        ],
        "mark": {"type": "rect", "fill": "white", "stroke": "#333", "strokeWidth": 1, "yOffset": 1.5, "y2Offset": -1.5},
        "encoding": {
          "y": {"field": "y0", "type": "quantitative", "scale": {"reverse": true, "nice": false, "zero": true}, "axis": null},
          "y2": {"field": "y1"}
        }
      },
      {
        "mark": {"type": "text", "angle": 270, "fontSize": 10, "fill": "#1a1a1a", "align": "center", "baseline": "middle"},
        "encoding": {
          "y": {"aggregate": "count", "type": "quantitative", "stack": "zero", "bandPosition": 0.5},
          "detail": {"field": "group"},
          "order": {"field": "rank"},
          "text": {"field": "group"}
        }
      }
    ]
  },
  {
    "width": 287, "height": 164,
    "data": {"name": "modules"},
    "mark": {"type": "rect"},
    "encoding": {
      "x": {"field": "sp", "type": "nominal", "sort": null, "scale": {"paddingInner": 0.05, "paddingOuter": 0.05}, "axis": null},
      "y": {"field": "row", "type": "nominal", "sort": null, "title": null, "scale": {"paddingInner": 0.05, "paddingOuter": 0.05}},
      "color": {"field": "st", "type": "nominal",
                "scale": {"domain": ["Complete", "One block missing", "Incomplete", "Absent"], "range": ["#46452f", "#6f6f4f", "#b8b89c", "#efefe9"]},
                "legend": {"title": null, "orient": "none", "legendX": 331, "legendY": 13,
                           "symbolType": "M-1.625,-0.95H1.625V0.95H-1.625Z", "symbolSize": 256,
                           "symbolStrokeWidth": 0, "rowPadding": 0.3, "labelOffset": 9}}
    }
  },
  {
    "width": 22, "height": 42,
    "data": {"values": []},
    "view": {"stroke": null},
    "mark": "rect",
    "encoding": {}
  },
  {
    "width": 287, "height": 42,
    "data": {"name": "flag"},
    "mark": {"type": "rect"},
    "encoding": {
      "x": {"field": "sp", "type": "nominal", "sort": null, "scale": {"paddingInner": 0.05, "paddingOuter": 0.05}, "axis": null},
      "y": {"field": "row", "type": "nominal", "sort": null, "title": null, "scale": {"paddingInner": 0.05, "paddingOuter": 0.05}},
      "color": {"field": "n", "type": "quantitative",
                "scale": {"domain": [0, 33], "range": ["#c2ecfb", "#00486a"], "interpolate": "lab"},
                "legend": {"title": "No. of genes (KOs)", "orient": "none", "legendX": 326, "legendY": -63,
                           "direction": "vertical", "gradientLength": 82, "gradientThickness": 26,
                           "gradientStrokeWidth": 0, "titlePadding": 6, "values": [0, 10, 20, 30], "labelOffset": 5}}
    }
  }
]
}
